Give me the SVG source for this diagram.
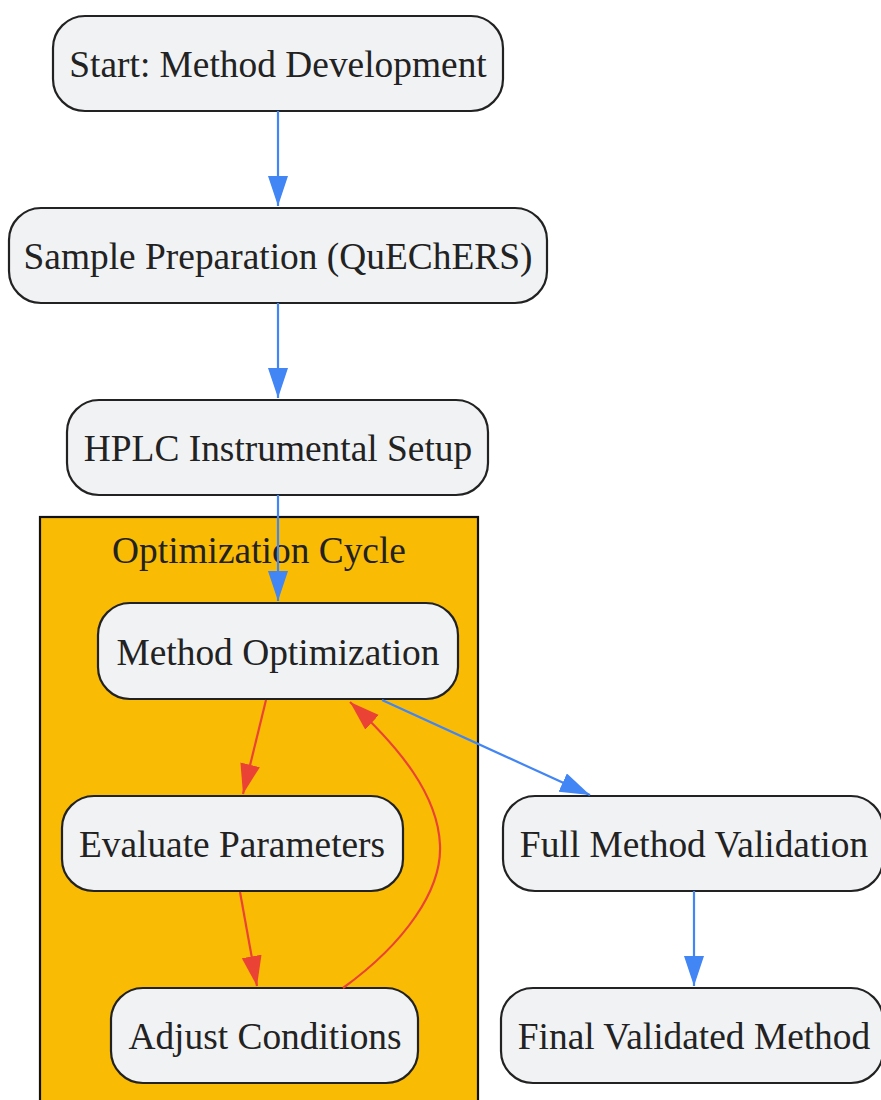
<svg xmlns="http://www.w3.org/2000/svg" width="881" height="1100" viewBox="0 0 881 1100">
<style>
.node rect{fill:#F1F2F4;stroke:#222;stroke-width:2.2}
.node text,.cl text{font-family:"Liberation Serif","Times New Roman",serif;font-size:37.4px;fill:#222;text-anchor:middle}
.b{stroke:#4285F4;stroke-width:2.2;fill:none}
.r{stroke:#EA4335;stroke-width:2.2;fill:none}
</style>
<defs>
<marker id="ab" markerUnits="userSpaceOnUse" markerWidth="32" markerHeight="22" refX="30" refY="10" orient="auto"><path d="M0,0 L30,10 L0,20 Z" fill="#4285F4"/></marker>
<marker id="ar" markerUnits="userSpaceOnUse" markerWidth="32" markerHeight="22" refX="30" refY="10" orient="auto"><path d="M0,0 L30,10 L0,20 Z" fill="#EA4335"/></marker>
</defs>
<rect width="881" height="1100" fill="#fff"/>
<g id="cluster" class="cl">
<rect x="40" y="517" width="438" height="600" fill="#FABB05" stroke="#111" stroke-width="2.2"/>
<text x="259" y="563">Optimization Cycle</text>
</g>
<g id="n_start" class="node"><rect x="53" y="16" width="450" height="95" rx="32"/><text x="278" y="77">Start: Method Development</text></g>
<g id="n_sample" class="node"><rect x="9" y="208" width="538" height="95" rx="32"/><text x="278" y="269">Sample Preparation (QuEChERS)</text></g>
<g id="n_hplc" class="node"><rect x="67" y="400" width="421" height="95" rx="32"/><text x="278" y="461">HPLC Instrumental Setup</text></g>
<g id="n_opt" class="node"><rect x="98" y="603" width="360" height="96" rx="32"/><text x="278" y="665">Method Optimization</text></g>
<g id="n_eval" class="node"><rect x="62" y="796" width="341" height="95" rx="32"/><text x="232" y="857">Evaluate Parameters</text></g>
<g id="n_adjust" class="node"><rect x="111" y="988" width="307" height="95" rx="32"/><text x="265" y="1049">Adjust Conditions</text></g>
<g id="n_full" class="node"><rect x="503" y="796" width="380" height="95" rx="32"/><text x="694" y="857">Full Method Validation</text></g>
<g id="n_final" class="node"><rect x="501" y="988" width="382" height="95" rx="32"/><text x="694" y="1049">Final Validated Method</text></g>
<g id="edges">
<path class="b" d="M278,111 L278,206" marker-end="url(#ab)"/>
<path class="b" d="M278,303 L278,398" marker-end="url(#ab)"/>
<path class="b" d="M278,495 L278,601" marker-end="url(#ab)"/>
<path class="r" d="M266,700 L243,794" marker-end="url(#ar)"/>
<path class="r" d="M240,892 L257,986" marker-end="url(#ar)"/>
<path class="r" d="M343,988 C405,943 442,890 440,845 C438,795 400,748 350,702" marker-end="url(#ar)"/>
<path class="b" d="M382,700 L590,795" marker-end="url(#ab)"/>
<path class="b" d="M694,891 L694,986" marker-end="url(#ab)"/>
</g>
</svg>
